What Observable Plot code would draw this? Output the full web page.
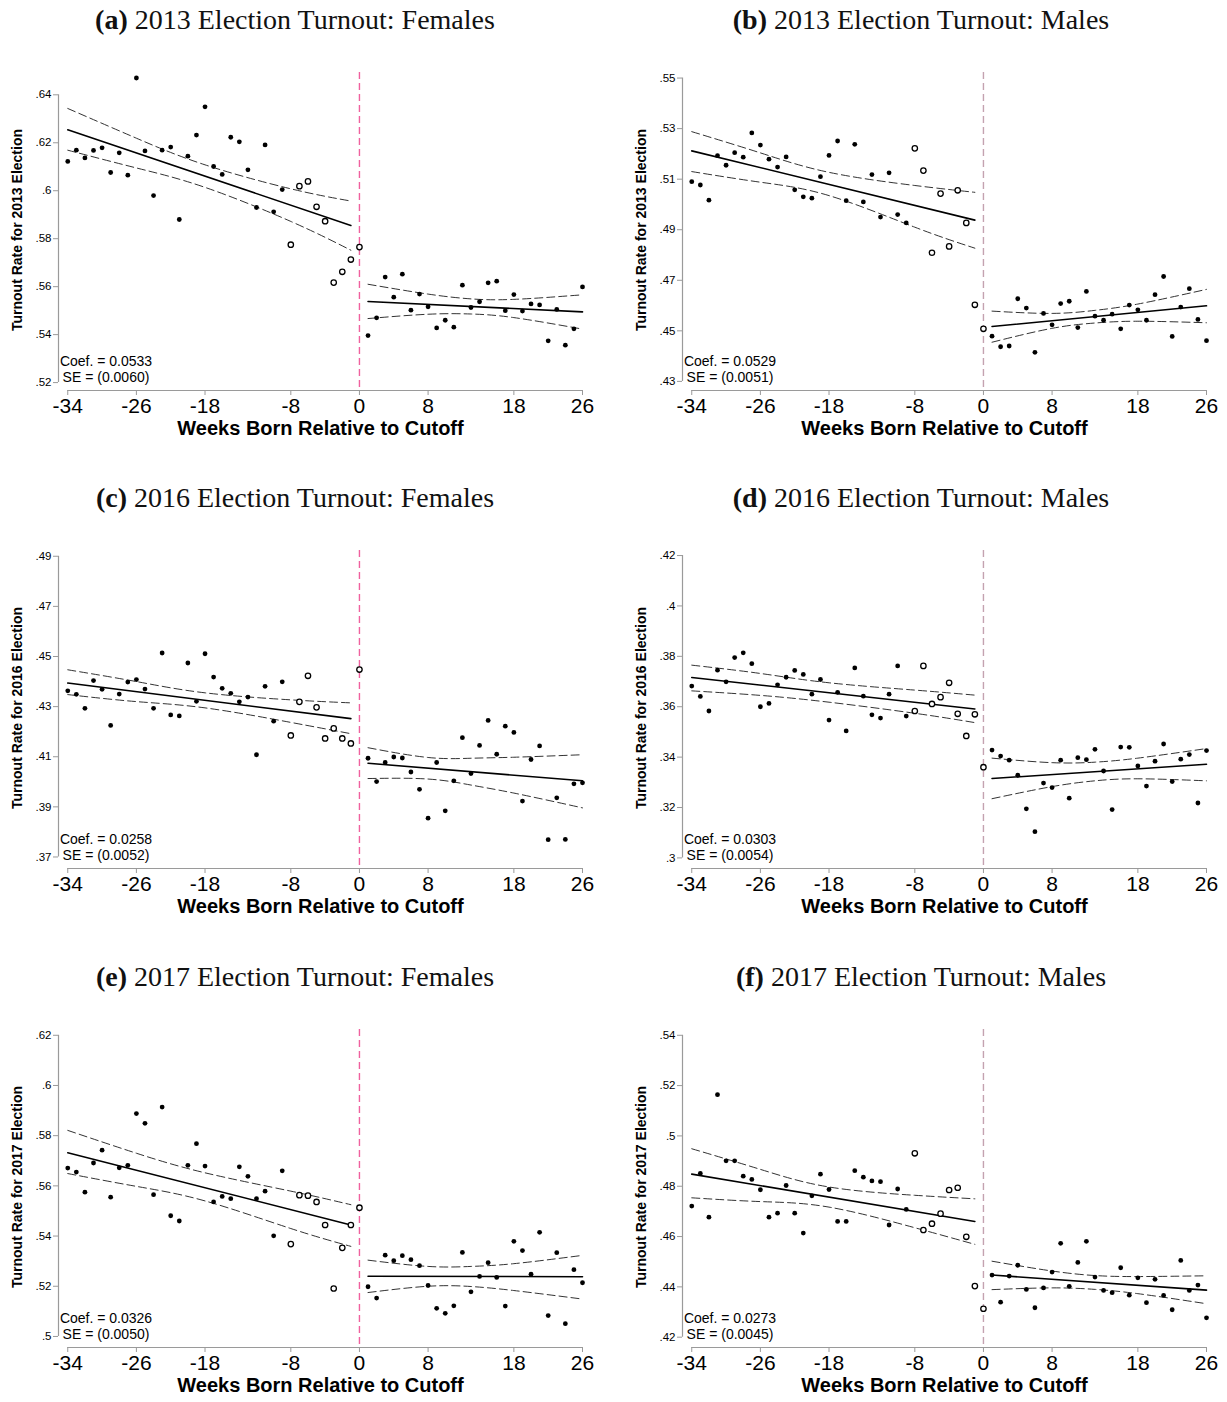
<!DOCTYPE html>
<html>
<head>
<meta charset="utf-8">
<script src="https://cdn.jsdelivr.net/npm/d3@7"></script>
<script src="https://cdn.jsdelivr.net/npm/@observablehq/plot@0.6"></script>
<style>
  body { margin: 0; background: white; }
  #page { position: relative; width: 1227px; height: 1402px; background: white; overflow: hidden; }
  .title { position: absolute; width: 600px; text-align: center; font-family: "Liberation Serif", "Times New Roman", serif; font-size: 28px; color: #111; line-height: 1; white-space: nowrap; }
  .ylab { position: absolute; font-family: "Liberation Sans", Arial, sans-serif; font-size: 14px; font-weight: bold; color: black; white-space: nowrap; transform: translate(-50%, -50%) rotate(-90deg); line-height: 1; }
  .panel { position: absolute; }
</style>
</head>
<body>
<div id="page"></div>
<script>
// ---------- shared categories ----------
const weeks = [-34,-33,-32,-31,-30,-29,-28,-27,-26,-25,-24,-23,-22,-21,-20,-19,-18,-17,-16,-15,-14,-13,-12,-11,-10,-9,
  -8,-7,-6,-5,-4,-3,-2,-1,0,
  1,2,3,4,5,6,7,8,9,10,11,12,13,14,15,16,17,18,19,20,21,22,23,24,25,26];
const hollowStart = -8, hollowEnd = 0;
const xTicks = [-34,-26,-18,-8,0,8,18,26];
const fitWeeksLeft = [-34,-1];
const fitWeeksRight = [1,26];
const ciWeeksLeft = [-34,-26,-18,-8,-1];
const ciWeeksRight = [1,8,13,18,26];

// ---------- panel (a) 2013 Females ----------
const turnoutA = [.6122,.6169,.6137,.6168,.6179,.6076,.6158,.6065,.6470,.6166,.5980,.6169,.6182,.5880,.6144,.6232,.6350,.6101,.6068,.6223,.6204,.6087,.5930,.6191,.5912,.6005,
  .5775,.6019,.6039,.5933,.5873,.5617,.5662,.5713,.5765,
  .5396,.5470,.5640,.5556,.5652,.5502,.5569,.5516,.5428,.5460,.5431,.5606,.5513,.5537,.5616,.5623,.5500,.5567,.5498,.5528,.5524,.5374,.5505,.5356,.5424,.5599];
const fitLeftA = [.6254,.5855], fitRightA = [.5538,.5495];
const ciUpLeftA = [.6343,.6219,.6108,.6008,.5957], ciLoLeftA = [.6169,.6095,.6014,.5872,.5752];
const ciUpRightA = [.5610,.5569,.5549,.5547,.5566], ciLoRightA = [.5467,.5485,.5486,.5471,.5423];
const yTicksA = [.52,.54,.56,.58,.6,.62,.64];

// ---------- panel (b) 2013 Males ----------
const turnoutB = [.5090,.5077,.5017,.5193,.5155,.5205,.5187,.5283,.5235,.5179,.5148,.5188,.5058,.5030,.5025,.5110,.5194,.5251,.5015,.5238,.5010,.5118,.4950,.5125,.4960,.4927,
  .5222,.5134,.4809,.5043,.4834,.5056,.4927,.4603,.4508,
  .4479,.4437,.4440,.4627,.4590,.4415,.4569,.4524,.4608,.4617,.4513,.4656,.4558,.4542,.4566,.4508,.4602,.4583,.4542,.4643,.4715,.4478,.4594,.4667,.4545,.4461];
const fitLeftB = [.5212,.4938], fitRightB = [.4517,.4599];
const ciUpLeftB = [.5288,.5204,.5127,.5075,.5048], ciLoLeftB = [.5130,.5088,.5035,.4910,.4827];
const ciUpRightB = [.4578,.4569,.4581,.4606,.4664], ciLoRightB = [.4455,.4510,.4531,.4538,.4532];
const yTicksB = [.43,.45,.47,.49,.51,.53,.55];

// ---------- panel (c) 2016 Females ----------
const turnoutC = [.4363,.4349,.4293,.4404,.4369,.4225,.4350,.4398,.4408,.4370,.4293,.4514,.4267,.4263,.4474,.4321,.4511,.4418,.4373,.4353,.4319,.4338,.4108,.4381,.4242,.4399,
  .4185,.4319,.4423,.4297,.4173,.4213,.4173,.4153,.4448,
  .4094,.4001,.4077,.4099,.4095,.4039,.3970,.3855,.4077,.3884,.4004,.4176,.4033,.4145,.4245,.4110,.4222,.4197,.3923,.4089,.4143,.3769,.3936,.3770,.3992,.3996];
const fitLeftC = [.4394,.4252], fitRightC = [.4074,.4004];
const ciUpLeftC = [.4447,.4400,.4355,.4327,.4315], ciLoLeftC = [.4348,.4320,.4295,.4237,.4192];
const ciUpRightC = [.4136,.4097,.4094,.4098,.4108], ciLoRightC = [.4013,.4011,.3987,.3955,.3896];
const yTicksC = [.37,.39,.41,.43,.45,.47,.49];

// ---------- panel (d) 2016 Males ----------
const turnoutD = [.3682,.3641,.3583,.3745,.3699,.3795,.3814,.3771,.3600,.3613,.3687,.3717,.3744,.3728,.3650,.3708,.3547,.3657,.3504,.3754,.3642,.3568,.3555,.3650,.3762,.3563,
  .3583,.3762,.3611,.3638,.3695,.3572,.3484,.3570,.3360,
  .3428,.3404,.3388,.3328,.3195,.3104,.3297,.3279,.3388,.3237,.3398,.3390,.3431,.3345,.3192,.3440,.3439,.3365,.3285,.3384,.3452,.3303,.3392,.3410,.3218,.3426];
const fitLeftD = [.3716,.3591], fitRightD = [.3315,.3372];
const ciUpLeftD = [.3765,.3732,.3695,.3666,.3646], ciLoLeftD = [.3663,.3645,.3618,.3574,.3537];
const ciUpRightD = [.3396,.3378,.3380,.3396,.3434], ciLoRightD = [.3235,.3283,.3306,.3314,.3306];
const yTicksD = [.3,.32,.34,.36,.38,.4,.42];

// ---------- panel (e) 2017 Females ----------
const turnoutE = [.5671,.5655,.5575,.5691,.5742,.5555,.5672,.5682,.5888,.5849,.5565,.5914,.5481,.5460,.5682,.5768,.5679,.5536,.5558,.5549,.5676,.5638,.5549,.5579,.5401,.5660,
  .5368,.5563,.5561,.5536,.5444,.5191,.5353,.5444,.5513,
  .5198,.5153,.5324,.5302,.5322,.5306,.5282,.5203,.5112,.5092,.5122,.5335,.5178,.5239,.5294,.5235,.5121,.5379,.5342,.5248,.5415,.5083,.5334,.5051,.5266,.5214];
const fitLeftE = [.5732,.5444], fitRightE = [.5240,.5238];
const ciUpLeftE = [.5821,.5730,.5652,.5579,.5525], ciLoLeftE = [.5649,.5598,.5540,.5430,.5359];
const ciUpRightE = [.5304,.5279,.5279,.5290,.5323], ciLoRightE = [.5175,.5200,.5199,.5183,.5149];
const yTicksE = [.5,.52,.54,.56,.58,.6,.62];

// ---------- panel (f) 2017 Males ----------
const turnoutF = [.4721,.4851,.4677,.5164,.4901,.4901,.4840,.4827,.4786,.4677,.4693,.4803,.4693,.4614,.4762,.4848,.4787,.4660,.4660,.4862,.4836,.4821,.4818,.4646,.4789,.4708,
  .4931,.4626,.4651,.4691,.4785,.4794,.4599,.4403,.4313,
  .4447,.4339,.4443,.4486,.4390,.4317,.4396,.4459,.4573,.4402,.4497,.4581,.4439,.4386,.4377,.4476,.4367,.4436,.4337,.4430,.4366,.4309,.4505,.4386,.4407,.4277];
const fitLeftF = [.4848,.4660], fitRightF = [.4447,.4387];
const ciUpLeftF = [.4949,.4867,.4797,.4764,.4750], ciLoLeftF = [.4754,.4739,.4717,.4635,.4569];
const ciUpRightF = [.4502,.4463,.4445,.4441,.4444], ciLoRightF = [.4389,.4396,.4390,.4373,.4333];
const yTicksF = [.42,.44,.46,.48,.5,.52,.54];

// ---------- texts ----------
const panelLetters = ["(a)","(b)","(c)","(d)","(e)","(f)"];
const panelTitles = ["2013 Election Turnout: Females","2013 Election Turnout: Males",
  "2016 Election Turnout: Females","2016 Election Turnout: Males",
  "2017 Election Turnout: Females","2017 Election Turnout: Males"];
const yLabels = ["Turnout Rate for 2013 Election","Turnout Rate for 2013 Election",
  "Turnout Rate for 2016 Election","Turnout Rate for 2016 Election",
  "Turnout Rate for 2017 Election","Turnout Rate for 2017 Election"];
const coefs = ["0.0533","0.0529","0.0258","0.0303","0.0326","0.0273"];
const ses = ["0.0060","0.0051","0.0052","0.0054","0.0050","0.0045"];
const xLabel = "Weeks Born Relative to Cutoff";

// ---------- layout ----------
const yDomains = [[.5167,.6493],[.4264,.5522],[.3654,.4923],[.2958,.4220],[.4956,.6223],[.4159,.5423]];
const xDomain = [-35.08, 26];
const rowPlotTops = [72, 550, 1029];

const panels = [
  {v: turnoutA, fl: fitLeftA, fr: fitRightA, ul: ciUpLeftA, ll: ciLoLeftA, ur: ciUpRightA, lr: ciLoRightA, yt: yTicksA},
  {v: turnoutB, fl: fitLeftB, fr: fitRightB, ul: ciUpLeftB, ll: ciLoLeftB, ur: ciUpRightB, lr: ciLoRightB, yt: yTicksB},
  {v: turnoutC, fl: fitLeftC, fr: fitRightC, ul: ciUpLeftC, ll: ciLoLeftC, ur: ciUpRightC, lr: ciLoRightC, yt: yTicksC},
  {v: turnoutD, fl: fitLeftD, fr: fitRightD, ul: ciUpLeftD, ll: ciLoLeftD, ur: ciUpRightD, lr: ciLoRightD, yt: yTicksD},
  {v: turnoutE, fl: fitLeftE, fr: fitRightE, ul: ciUpLeftE, ll: ciLoLeftE, ur: ciUpRightE, lr: ciLoRightE, yt: yTicksE},
  {v: turnoutF, fl: fitLeftF, fr: fitRightF, ul: ciUpLeftF, ll: ciLoLeftF, ur: ciUpRightF, lr: ciLoRightF, yt: yTicksF}
];

const fmt = v => String(v).replace(/^0\./, ".");
const page = document.getElementById("page");

panels.forEach((p, i) => {
  const col = i % 2, row = Math.floor(i / 2);
  const isLeft = col === 0;
  const svgLeft = isLeft ? 0 : 624;
  const width = isLeft ? 613 : 603;
  const marginRight = isLeft ? 31 : 21;
  const plotTop = rowPlotTops[row];
  const cutColor = isLeft ? "#f0619f" : "#c4a2b0";

  const rows = weeks.map((w, k) => ({week: w, value: p.v[k]}));
  const filled = rows.filter(d => d.week < hollowStart || d.week > hollowEnd);
  const hollow = rows.filter(d => d.week >= hollowStart && d.week <= hollowEnd);
  const fitL = fitWeeksLeft.map((w, k) => ({week: w, value: p.fl[k]}));
  const fitR = fitWeeksRight.map((w, k) => ({week: w, value: p.fr[k]}));
  const ciL = ciWeeksLeft.map((w, k) => ({week: w, up: p.ul[k], lo: p.ll[k]}));
  const ciR = ciWeeksRight.map((w, k) => ({week: w, up: p.ur[k], lo: p.lr[k]}));
  const yt = p.yt;
  const dashCI = "8,4";

  const chart = Plot.plot({
    width, height: 420,
    marginTop: 32, marginBottom: 70, marginLeft: 58, marginRight,
    x: {domain: xDomain},
    y: {domain: yDomains[i]},
    style: {fontFamily: "'Liberation Sans', Arial, sans-serif", background: "white", color: "black", overflow: "visible"},
    marks: [
      // axis lines
      Plot.ruleY([yDomains[i][0]], {x1: xTicks[0], x2: xTicks[xTicks.length - 1], stroke: "#9a9a9a", strokeWidth: 1.2}),
      Plot.ruleX([xDomain[0]], {y1: yt[0], y2: yt[yt.length - 1], stroke: "#9a9a9a", strokeWidth: 1.2}),
      Plot.axisX({ticks: xTicks, tickSize: 5, tickPadding: 3, fontSize: 21, label: null, stroke: "#9a9a9a", fill: "black", tickFormat: d => String(d)}),
      Plot.axisY({ticks: yt, tickSize: 5, tickPadding: 2, fontSize: 11.5, label: null, stroke: "#9a9a9a", fill: "black", tickFormat: fmt}),
      // cutoff
      Plot.ruleX([0], {stroke: cutColor, strokeWidth: 1.4, strokeDasharray: "7,4"}),
      // confidence bands (dashed)
      Plot.line(ciL, {x: "week", y: "up", curve: "natural", stroke: "#333", strokeWidth: 1, strokeDasharray: dashCI}),
      Plot.line(ciL, {x: "week", y: "lo", curve: "natural", stroke: "#333", strokeWidth: 1, strokeDasharray: dashCI}),
      Plot.line(ciR, {x: "week", y: "up", curve: "natural", stroke: "#333", strokeWidth: 1, strokeDasharray: dashCI}),
      Plot.line(ciR, {x: "week", y: "lo", curve: "natural", stroke: "#333", strokeWidth: 1, strokeDasharray: dashCI}),
      // fit lines
      Plot.line(fitL, {x: "week", y: "value", stroke: "black", strokeWidth: 1.6}),
      Plot.line(fitR, {x: "week", y: "value", stroke: "black", strokeWidth: 1.6}),
      // points
      Plot.dot(filled, {x: "week", y: "value", r: 2.4, fill: "black", stroke: "none"}),
      Plot.dot(hollow, {x: "week", y: "value", r: 2.7, fill: "white", stroke: "black", strokeWidth: 1.3}),
      // texts
      Plot.text([`Coef. = ${coefs[i]}`], {text: d => d, frameAnchor: "bottom-left", dx: 47.5, dy: -25, fontSize: 14, textAnchor: "middle", fill: "black"}),
      Plot.text([`SE = (${ses[i]})`], {text: d => d, frameAnchor: "bottom-left", dx: 47.5, dy: -9, fontSize: 14, textAnchor: "middle", fill: "black"}),
      Plot.text([xLabel], {text: d => d, frameAnchor: "bottom", dy: 44, fontSize: 20, fontWeight: "bold", fill: "black"})
    ]
  });
  chart.classList.add("panel");
  chart.style.left = svgLeft + "px";
  chart.style.top = (plotTop - 32) + "px";
  page.appendChild(chart);

  const yl = document.createElement("div");
  yl.className = "ylab";
  yl.textContent = yLabels[i];
  yl.style.left = (svgLeft + 17) + "px";
  yl.style.top = (plotTop + 158) + "px";
  page.appendChild(yl);

  const t = document.createElement("div");
  t.className = "title";
  const cx = isLeft ? 295 : 921;
  t.style.left = (cx - 300) + "px";
  t.style.top = (plotTop - 52 - 14) + "px";
  const b = document.createElement("b");
  b.textContent = panelLetters[i];
  t.appendChild(b);
  t.appendChild(document.createTextNode(" " + panelTitles[i]));
  page.appendChild(t);
});
</script>
</body>
</html>
